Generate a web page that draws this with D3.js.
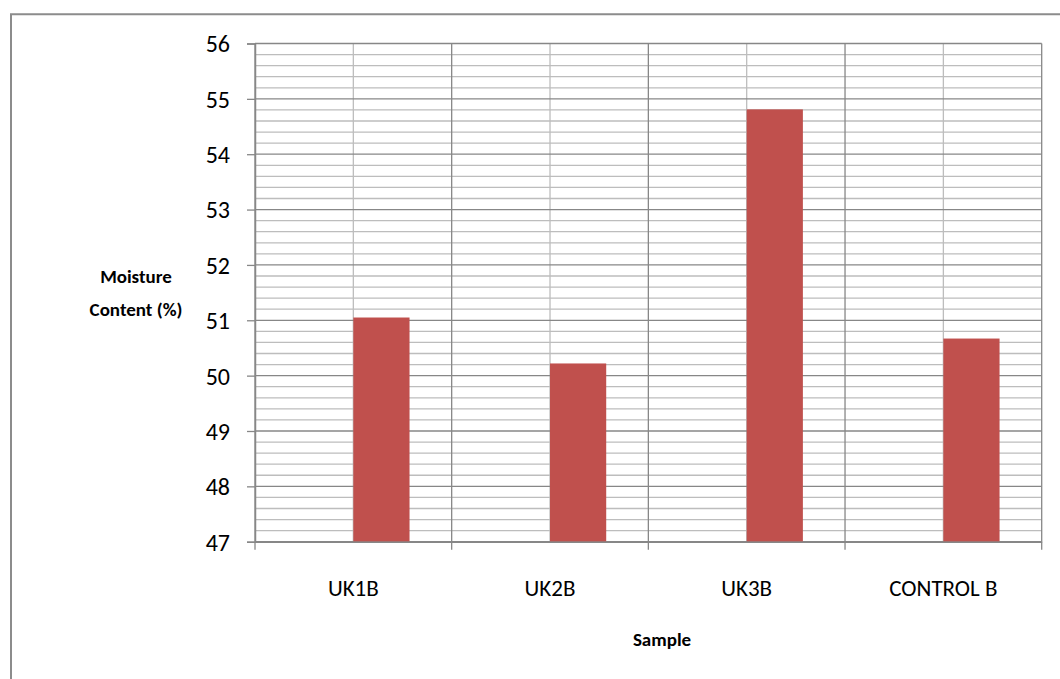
<!DOCTYPE html>
<html>
<head>
<meta charset="utf-8">
<script src="https://cdn.jsdelivr.net/npm/d3@7"></script>
<style>
  html, body { margin: 0; padding: 0; background: #fff; }
  svg { display: block; }
  text { font-family: Carlito, Calibri, "Open Sans", "Noto Sans", sans-serif; fill: #000; }
</style>
</head>
<body>
<svg id="chart" width="1060" height="679"></svg>
<script>
const categories = ["UK1B", "UK2B", "UK3B", "CONTROL B"];
const values = [51.05, 50.22, 54.81, 50.67];
const yTicks = [47, 48, 49, 50, 51, 52, 53, 54, 55, 56];
const yTitle = ["Moisture", "Content (%)"];
const xTitle = "Sample";

const svg = d3.select("#chart");
const W = 1060, H = 679;
const pLeft = 255, pRight = 1041.7, pTop = 43.5, pBottom = 541.7;

// outer chart border
svg.append("path")
  .attr("d", `M11,${H + 5} L11,14.3 L${W + 5},14.3`)
  .attr("fill", "none").attr("stroke", "#8c8c8c").attr("stroke-width", 2);

const x = d3.scaleBand().domain(categories).range([pLeft, pRight]).padding(0);
const y = d3.scaleLinear().domain([47, 56]).range([pBottom, pTop]);

const minorTicks = d3.range(47, 56.0001, 0.2).filter(v => Math.abs(v - Math.round(v)) > 1e-6);

// minor horizontal gridlines
svg.append("g").selectAll("line").data(minorTicks).join("line")
  .attr("x1", pLeft).attr("x2", pRight)
  .attr("y1", d => y(d)).attr("y2", d => y(d))
  .attr("stroke", "#bdbdbd").attr("stroke-width", 1.3);

// minor vertical gridlines at category centers
svg.append("g").selectAll("line").data(categories).join("line")
  .attr("x1", d => x(d) + x.bandwidth() / 2).attr("x2", d => x(d) + x.bandwidth() / 2)
  .attr("y1", pTop).attr("y2", pBottom)
  .attr("stroke", "#bdbdbd").attr("stroke-width", 1.3);

// major horizontal gridlines
svg.append("g").selectAll("line").data(yTicks).join("line")
  .attr("x1", pLeft).attr("x2", pRight)
  .attr("y1", d => y(d)).attr("y2", d => y(d))
  .attr("stroke", "#878787").attr("stroke-width", 1.3);

// major vertical gridlines at category boundaries
const bounds = categories.map(c => x(c)).concat([pRight]);
svg.append("g").selectAll("line").data(bounds).join("line")
  .attr("x1", d => d).attr("x2", d => d)
  .attr("y1", pTop).attr("y2", pBottom)
  .attr("stroke", "#878787").attr("stroke-width", 1.3);

// bars (second series of a clustered pair, gap width 150%)
const barW = x.bandwidth() / 3.5;
svg.append("g").selectAll("rect").data(categories).join("rect")
  .attr("x", d => x(d) + x.bandwidth() / 2)
  .attr("y", (d, i) => y(values[i]))
  .attr("width", barW)
  .attr("height", (d, i) => y(47) - y(values[i]))
  .attr("fill", "#c0504d");

// y axis
const yAxis = svg.append("g").attr("transform", `translate(${pLeft},0)`)
  .call(d3.axisLeft(y).tickValues(yTicks).tickSize(8).tickPadding(17).tickFormat(d3.format("d")));
yAxis.select(".domain").attr("stroke", "#878787").attr("stroke-width", 1.5);
yAxis.selectAll(".tick line").attr("stroke", "#878787").attr("stroke-width", 1.3);
yAxis.selectAll(".tick text").attr("font-size", 24).attr("dy", "0.35em")
  .style("font-family", "Carlito, Calibri, 'Open Sans', sans-serif");

// x axis
const xAxis = svg.append("g").attr("transform", `translate(0,${pBottom})`)
  .call(d3.axisBottom(x).tickSize(0).tickPadding(38));
xAxis.select(".domain").attr("stroke", "#878787").attr("stroke-width", 1.5);
xAxis.selectAll(".tick text").attr("font-size", 23)
  .style("font-family", "Carlito, Calibri, 'Open Sans', sans-serif");
svg.append("g").selectAll("line").data(bounds).join("line")
  .attr("x1", d => d).attr("x2", d => d)
  .attr("y1", pBottom).attr("y2", pBottom + 8)
  .attr("stroke", "#878787").attr("stroke-width", 1.3);

// axis titles
svg.append("text").attr("text-anchor", "middle").attr("font-weight", "bold").attr("font-size", 19)
  .selectAll("tspan").data(yTitle).join("tspan")
  .attr("x", 136).attr("y", (d, i) => 283 + i * 33).text(d => d);

svg.append("text").attr("x", 662).attr("y", 646).attr("text-anchor", "middle")
  .attr("font-weight", "bold").attr("font-size", 19).text(xTitle);
</script>
</body>
</html>
